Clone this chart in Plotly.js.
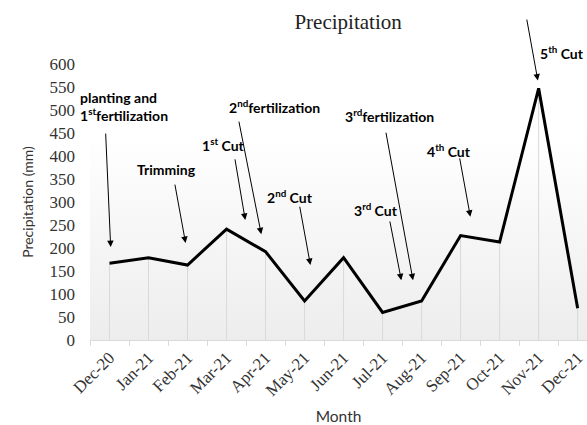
<!DOCTYPE html>
<html>
<head>
<meta charset="utf-8">
<script src="https://cdn.plot.ly/plotly-3.0.1.min.js"></script>
<style>html,body{margin:0;padding:0;background:#fff;}#chart{width:587px;height:425px;}</style>
</head>
<body>
<div id="chart"></div>
<script>
// ---- data ----
const months = ['Dec-20','Jan-21','Feb-21','Mar-21','Apr-21','May-21','Jun-21','Jul-21','Aug-21','Sep-21','Oct-21','Nov-21','Dec-21'];
const precipitation = [167, 179, 163, 241, 192, 85, 179, 60, 85, 227, 213, 547, 69];
const yTicks = [0, 50, 100, 150, 200, 250, 300, 350, 400, 450, 500, 550, 600];
const eventLabels = [
  'planting and<br>1<sup>st</sup>fertilization',
  'Trimming',
  '1<sup>st</sup> Cut',
  '2<sup>nd</sup>fertilization',
  '2<sup>nd</sup> Cut',
  '3<sup>rd</sup> Cut',
  '3<sup>rd</sup>fertilization',
  '4<sup>th</sup> Cut',
  '5<sup>th</sup> Cut'
];

// ---- layout helpers ----
const idx = months.map((m, i) => i);
const zeros = precipitation.map(() => 0);

// label placement and arrows (tail -> tip)
const labelPos = [
  {x: -0.024, y: 0.846, ref: 'paper', xanchor: 'left', align: 'left'},
  {x: 1.45, y: 370},
  {x: 2.92, y: 426},
  {x: 4.23, y: 507},
  {x: 4.62, y: 311},
  {x: 6.82, y: 283},
  {x: 7.18, y: 489},
  {x: 8.69, y: 411},
  {x: 0.950, y: 1.043, ref: 'paper'}
];
const arrowPos = [
  {ax: -0.10, ay: 452, x: 0.03, y: 202},
  {ax: 1.67, ay: 341, x: 1.95, y: 211},
  {ax: 3.21, ay: 396, x: 3.48, y: 261},
  {ax: 3.31, ay: 478, x: 3.89, y: 230},
  {ax: 4.87, ay: 293, x: 5.15, y: 163},
  {ax: 7.18, ay: 261, x: 7.48, y: 130},
  {ax: 7.08, ay: 454, x: 7.78, y: 130},
  {ax: 8.97, ay: 398, x: 9.25, y: 268},
  {ax: 10.69, ay: 700, x: 10.98, y: 564}
];

const annFont = {family: 'Lato, "Open Sans", sans-serif', size: 14, color: '#000', weight: 'bold'};
const annotations = [];
eventLabels.forEach((t, i) => {
  const p = labelPos[i];
  annotations.push({
    text: '<b>' + t + '</b>', x: p.x, y: p.y,
    xref: p.ref === 'paper' ? 'paper' : 'x', yref: p.ref === 'paper' ? 'paper' : 'y',
    xanchor: p.xanchor || 'center', yanchor: 'middle', align: p.align || 'center',
    showarrow: false, font: annFont
  });
});
arrowPos.forEach(a => {
  annotations.push({
    text: '', x: a.x, y: a.y, ax: a.ax, ay: a.ay, xref: 'x', yref: 'y', axref: 'x', ayref: 'y',
    showarrow: true, arrowhead: 2, arrowsize: 1.3, arrowwidth: 1, arrowcolor: '#000', standoff: 0
  });
});

const gradSvg = '<svg xmlns="http://www.w3.org/2000/svg" width="10" height="100" viewBox="0 0 10 100" preserveAspectRatio="none">' +
  '<defs><linearGradient id="g" x1="0" y1="0" x2="0" y2="1"><stop offset="0" stop-color="#ffffff"/><stop offset="0.25" stop-color="#ffffff"/><stop offset="1" stop-color="#ededed"/></linearGradient></defs>' +
  '<rect x="0" y="0" width="10" height="100" fill="url(#g)"/></svg>';

const traces = [
  { // drop lines
    x: idx, y: precipitation, type: 'scatter', mode: 'markers',
    marker: {size: 1, color: 'rgba(0,0,0,0)'},
    error_y: {type: 'data', symmetric: false, array: zeros, arrayminus: precipitation, width: 0, thickness: 1, color: '#d9d9d9'},
    hoverinfo: 'skip', showlegend: false
  },
  {
    x: idx, y: precipitation, type: 'scatter', mode: 'lines', name: 'Precipitation',
    line: {color: '#000', width: 3}, showlegend: false, cliponaxis: false
  }
];

const serif = '"Liberation Serif", "Times New Roman", serif';
const layout = {
  width: 587, height: 425, autosize: false,
  margin: {l: 90, r: 0, t: 64, b: 85},
  paper_bgcolor: '#ffffff', plot_bgcolor: 'rgba(0,0,0,0)',
  showlegend: false,
  title: {text: 'Precipitation', font: {family: serif, size: 21, color: '#222'},
          xref: 'container', x: 0.593, xanchor: 'center', yref: 'container', y: 0.948, yanchor: 'middle'},
  images: [{source: 'data:image/svg+xml;charset=utf-8,' + encodeURIComponent(gradSvg),
            xref: 'paper', yref: 'paper', x: 0, y: 1, sizex: 1, sizey: 1, sizing: 'stretch',
            xanchor: 'left', yanchor: 'top', layer: 'below'}],
  xaxis: {
    type: 'linear', range: [-0.5, 12.24], tickmode: 'array', tickvals: idx, ticktext: months,
    tickangle: -45, ticks: '', showgrid: false, zeroline: false,
    showline: true, linecolor: '#d9d9d9', linewidth: 1,
    tickfont: {family: serif, size: 17, color: '#333'},
    minor: {tickmode: 'array', tickvals: idx.map(i => i - 0.5), ticks: 'outside', ticklen: 5, tickcolor: '#d9d9d9', tickwidth: 1, showgrid: false},
    title: {text: 'Month', font: {family: 'Lato, "Open Sans", sans-serif', size: 15.5, color: '#333'}, standoff: 14}
  },
  yaxis: {
    range: [0, 600], tickmode: 'array', tickvals: yTicks, ticks: '', showgrid: false, zeroline: false, showline: false,
    ticklabelstandoff: 14,
    tickfont: {family: serif, size: 17, color: '#333'},
    title: {text: 'Precipitation (mm)', font: {family: 'Lato, "Open Sans", sans-serif', size: 14, color: '#333'}, standoff: 12}
  },
  annotations: annotations
};

Plotly.newPlot('chart', traces, layout, {staticPlot: true, displayModeBar: false});
</script>
</body>
</html>
